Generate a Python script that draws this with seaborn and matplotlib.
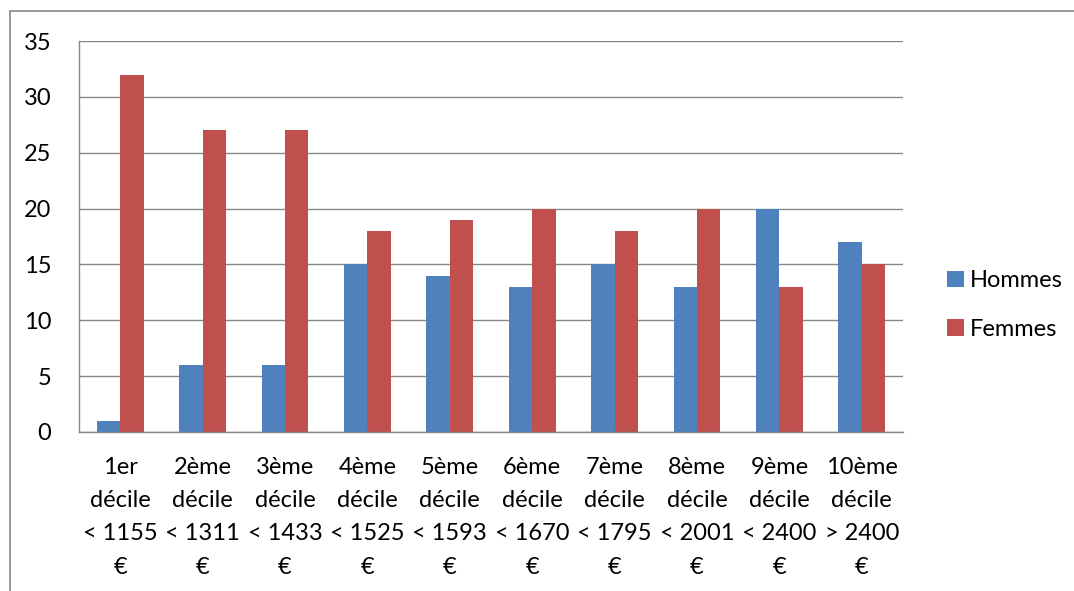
import matplotlib
matplotlib.use("Agg")
import matplotlib.pyplot as plt
import numpy as np
import pandas as pd
import seaborn as sns
from matplotlib.patches import Rectangle

# données
categories = ["1er\ndécile\n< 1155\n€", "2ème\ndécile\n< 1311\n€", "3ème\ndécile\n< 1433\n€",
              "4ème\ndécile\n< 1525\n€", "5ème\ndécile\n< 1593\n€", "6ème\ndécile\n< 1670\n€",
              "7ème\ndécile\n< 1795\n€", "8ème\ndécile\n< 2001\n€", "9ème\ndécile\n< 2400\n€",
              "10ème\ndécile\n> 2400\n€"]
hommes = [1, 6, 6, 15, 14, 13, 15, 13, 20, 17]
femmes = [32, 27, 27, 18, 19, 20, 18, 20, 13, 15]
series = ["Hommes", "Femmes"]

df = pd.DataFrame({
    "categorie": categories * 2,
    "valeur": hommes + femmes,
    "serie": [series[0]] * len(categories) + [series[1]] * len(categories),
})

sns.set_style("white")
plt.rcParams["font.family"] = ["Lato", "DejaVu Sans"]
plt.rcParams["text.color"] = "black"
plt.rcParams["xtick.color"] = "black"
plt.rcParams["ytick.color"] = "black"

fs = 17
fig = plt.figure(figsize=(10.74, 5.91), dpi=100)
ax = fig.add_axes([79 / 1074, 1 - 432 / 591, (903 - 79) / 1074, (432 - 41) / 591])

sns.barplot(data=df, x="categorie", y="valeur", hue="serie", order=categories,
            hue_order=series, palette=["#4F81BD", "#C0504D"], width=0.57, gap=0,
            saturation=1, linewidth=0, ax=ax, zorder=3)

grid_col = "#868686"
ax.set_xlim(-0.5, len(categories) - 0.5)
ax.set_ylim(0, 35)
ax.set_yticks(np.arange(0, 36, 5))
ax.yaxis.grid(True, color=grid_col, linewidth=1)
ax.set_axisbelow(True)
for s in ["top", "right"]:
    ax.spines[s].set_visible(False)
for s in ["left", "bottom"]:
    ax.spines[s].set_color(grid_col)
    ax.spines[s].set_linewidth(1)
    ax.spines[s].set_zorder(4)

ax.set_xlabel("")
ax.set_ylabel("")
ax.set_xticks(np.arange(len(categories)))
ax.set_xticklabels(categories, fontsize=fs, linespacing=1.72, va="top")
ax.set_xticks(np.arange(-0.5, len(categories)), minor=True)
ax.tick_params(axis="x", which="major", length=0, pad=18)
ax.tick_params(axis="x", which="minor", length=6, width=1, color=grid_col, direction="out")
ax.tick_params(axis="y", length=6, width=1, color=grid_col, labelcolor="black",
               direction="out", labelsize=fs, pad=14)

leg = ax.legend(loc="center left", bbox_to_anchor=(1.028, 0.325), frameon=False,
                fontsize=fs, handlelength=0.7, handleheight=0.7, handletextpad=0.25,
                labelspacing=1.15)

# cadre du graphique
fig.add_artist(Rectangle((10 / 1074, -0.1), 1.2, 1 - 11 / 591 + 0.1, transform=fig.transFigure,
                         fill=False, edgecolor=grid_col, linewidth=1.2))

fig.savefig("out.png", dpi=100)
